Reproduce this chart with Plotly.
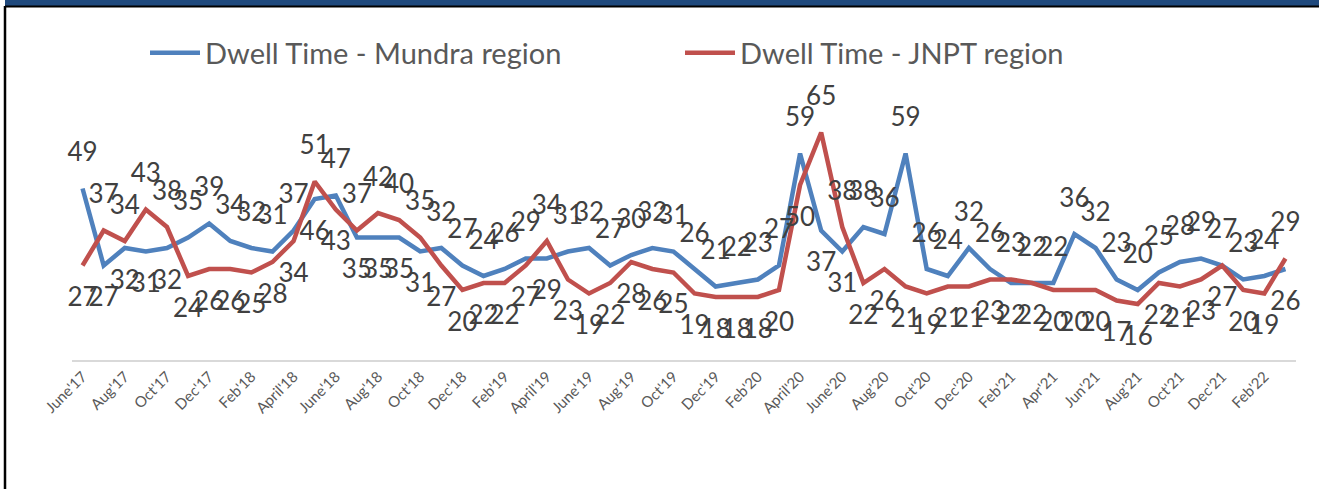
import plotly.graph_objects as go

months = [
    "June'17", "July'17", "Aug'17", "Sept'17", "Oct'17", "Nov'17", "Dec'17",
    "Jan'18", "Feb'18", "Mar'18", "April'18", "May'18", "June'18", "July'18",
    "Aug'18", "Sept'18", "Oct'18", "Nov'18", "Dec'18", "Jan'19", "Feb'19",
    "Mar'19", "April'19", "May'19", "June'19", "July'19", "Aug'19", "Sept'19",
    "Oct'19", "Nov'19", "Dec'19", "Jan'20", "Feb'20", "Mar'20", "April'20",
    "May'20", "June'20", "July'20", "Aug'20", "Sept'20", "Oct'20", "Nov'20",
    "Dec'20", "Jan'21", "Feb'21", "Mar'21", "Apr'21", "May'21", "Jun'21",
    "July'21", "Aug'21", "Sept'21", "Oct'21", "Nov'21", "Dec'21", "Jan'22",
    "Feb'22", "Mar'22",
]

mundra = [49, 27, 32, 31, 32, 35, 39, 34, 32, 31, 37, 46, 47, 35, 35, 35, 31, 32,
          27, 24, 26, 29, 29, 31, 32, 27, 30, 32, 31, 26, 21, 22, 23, 27, 59, 37,
          31, 38, 36, 59, 26, 24, 32, 26, 22, 22, 22, 36, 32, 23, 20, 25, 28, 29,
          27, 23, 24, 26]

jnpt = [27, 37, 34, 43, 38, 24, 26, 26, 25, 28, 34, 51, 43, 37, 42, 40, 35, 27,
        20, 22, 22, 27, 34, 23, 19, 22, 28, 26, 25, 19, 18, 18, 18, 20, 50, 65,
        38, 22, 26, 21, 19, 21, 21, 23, 23, 22, 20, 20, 20, 17, 16, 22, 21, 23,
        27, 20, 19, 29]

tick_months = months[::2]

FONT = "Lato"
BLUE = "#4F81BD"
RED = "#C0504D"

pos_m = ["top center" if m >= j else "bottom center" for m, j in zip(mundra, jnpt)]
pos_j = ["top center" if j > m else "bottom center" for m, j in zip(mundra, jnpt)]

fig = go.Figure()
for name, vals, color in [
    ("Dwell Time - Mundra region", mundra, BLUE),
    ("Dwell Time - JNPT region", jnpt, RED),
]:
    fig.add_trace(go.Scatter(
        x=months, y=vals, name=name, mode="lines",
        line=dict(color=color, width=4.5), hoverinfo="skip",
    ))
for vals, pos in [(mundra, pos_m), (jnpt, pos_j)]:
    fig.add_trace(go.Scatter(
        x=months, y=vals, mode="markers+text", showlegend=False,
        text=[str(v) for v in vals], textposition=pos,
        textfont=dict(family=FONT, size=26, color="#404040"),
        marker=dict(size=32, opacity=0), cliponaxis=False, hoverinfo="skip",
    ))

L, R, T, B = 72, 23, 115, 129
W, H = 1319, 489
pw, ph = W - L - R, H - T - B


def px(x):
    return (x - L) / pw


def py(y):
    return (H - B - y) / ph


shapes = [
    dict(type="rect", xref="paper", yref="paper", x0=px(5), x1=px(W),
         y0=py(6), y1=py(0), fillcolor="#1F497D", line=dict(width=0), layer="below"),
    dict(type="line", xref="paper", yref="paper", x0=px(5), x1=px(W),
         y0=py(6.5), y1=py(6.5), line=dict(color="#000000", width=2)),
    dict(type="line", xref="paper", yref="paper", x0=px(5), x1=px(5),
         y0=py(6), y1=py(H), line=dict(color="#000000", width=2.5)),
]

fig.update_layout(
    width=W, height=H,
    margin=dict(l=L, r=R, t=T, b=B, autoexpand=False),
    paper_bgcolor="white", plot_bgcolor="white",
    font=dict(family=FONT, color="#595959"),
    showlegend=True,
    legend=dict(orientation="h", x=px(145), y=py(53), xanchor="left", yanchor="middle",
                font=dict(family=FONT, size=29, color="#595959"),
                itemwidth=50, entrywidth=470, bgcolor="rgba(0,0,0,0)"),
    xaxis=dict(type="category", range=[-0.5, len(months) - 0.5],
               tickmode="array", tickvals=tick_months, ticktext=tick_months,
               tickangle=-45, tickfont=dict(family=FONT, size=15, color="#595959"),
               showgrid=False, showline=True, linecolor="#D9D9D9", linewidth=2,
               ticks="", zeroline=False),
    yaxis=dict(range=[0, 70], visible=False, showgrid=False, zeroline=False),
    shapes=shapes,
)

fig.write_html(
    "out.html",
    config={"displayModeBar": False},
    post_script=(
        "document.documentElement.style.overflow='hidden';"
        "document.documentElement.style.background='white';"
        "document.body.style.margin='0';document.body.style.overflow='hidden';"
        "var gd=document.getElementById('{plot_id}');"
        "gd.style.position='fixed';gd.style.left='0px';gd.style.top='0px';"
    ),
)
